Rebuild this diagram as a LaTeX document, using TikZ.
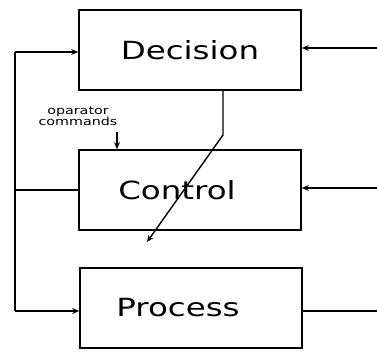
\documentclass[tikz,border=0pt]{standalone}
\usepackage{fontspec}
\usepackage{tikz}
\usetikzlibrary{arrows.meta}
\newfontfamily\boxfont[FakeStretch=1.3]{DejaVu Sans}

\begin{document}
\begin{tikzpicture}[x=1pt, y=-1pt,
    block/.style={draw, line width=1.6pt, minimum width=222pt, minimum height=80pt,
        inner sep=0pt, font=\boxfont\fontsize{25}{28}\selectfont},
    wire/.style={line width=1.4pt},
    arr/.style={wire, -{Stealth[open, length=7pt, width=6pt]}}]
    \useasboundingbox (0,0) rectangle (377,351);

    % Draw the blocks
    \node[block] (Decision) at (190,50) {Decision};
    \node[block] (Control) at (190,190) {\hspace*{-26pt}Control};
    \node[block] (Process) at (191,308) {\hspace*{-26pt}Process};

    % Draw the feedback bus on the left
    \coordinate (busTop) at (15,52);
    \coordinate (busBot) at (15,311);
    \draw[wire] (busTop) -- (busBot);
    \draw[arr] (busTop) -- (busTop -| Decision.west);
    \draw[arr] (busBot) -- (busBot -| Process.west);
    \draw[wire] (Control.west) -- (Control.west -| busTop);

    % Draw the inputs on the right
    \coordinate (inDecision) at (377,48);
    \coordinate (inControl) at (377,188);
    \coordinate (outProcess) at (377,311);
    \draw[arr] (inDecision) -- (inDecision -| Decision.east);
    \draw[arr] (inControl) -- (inControl -| Control.east);
    \draw[wire] (outProcess -| Process.east) -- (outProcess);

    % Draw the line from Decision through Control
    \coordinate (bend) at (223,135);
    \coordinate (tip) at (147,242);
    \draw[arr] (bend |- Decision.south) -- (bend) -- (tip);

    % Draw the operator commands
    \node[font=\boxfont\fontsize{11}{11}\selectfont, align=center, inner sep=0pt]
        (opcmd) at (78,116) {oparator\\commands};
    \coordinate (opIn) at (117,132);
    \draw[arr] (opIn) -- (opIn |- Control.north);
\end{tikzpicture}
\end{document}
